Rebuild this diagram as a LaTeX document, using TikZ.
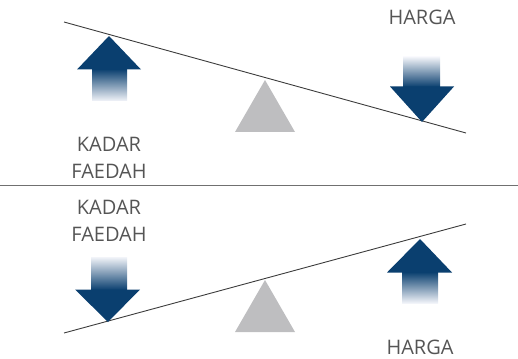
\documentclass[tikz,border=0pt]{standalone}
\usepackage{fontspec}
\setmainfont{Open Sans}
\definecolor{arrowblue}{HTML}{0A3F6F}
\definecolor{fadeblue}{HTML}{F2F4F9}
\definecolor{pivotgray}{HTML}{BEBEC0}
\definecolor{labelgray}{HTML}{555555}
\definecolor{beamgray}{HTML}{3C3C3C}
\definecolor{rulegray}{HTML}{707070}
\tikzset{
  beam/.style={draw=beamgray, line width=0.9pt},
  pivot/.style={fill=pivotgray, draw=none},
  arrowhead/.style={fill=arrowblue, draw=none},
  label/.style={text=labelgray, font=\fontsize{20}{27}\selectfont, align=center, inner sep=0pt},
}
\begin{document}
\begin{tikzpicture}[x=1pt, y=-1pt]
\useasboundingbox (0,0) rectangle (518,358);

% divider
\draw[draw=rulegray, line width=0.9pt] (0,185) -- (518,185);

% ---------- upper balance ----------
\coordinate (b1l) at (64,22);
\coordinate (b1r) at (466,133);
\fill[pivot] (265,80) -- (295,132) -- (235,132) -- cycle;
\draw[beam] (b1l) -- (b1r);

% up arrow (left)
\shade[top color=arrowblue, bottom color=fadeblue] (92,69) rectangle (127,101);
\fill[arrowhead] (109,36) -- (141,69.5) -- (77,69.5) -- cycle;

% down arrow (right)
\shade[top color=fadeblue, bottom color=arrowblue] (403,57) rectangle (440,87);
\fill[arrowhead] (422,122) -- (454,86.5) -- (390,86.5) -- cycle;

\node[label] (harga1) at (422,17) {HARGA};
\node[label] (kf1) at (109,158) {KADAR\\FAEDAH};

% ---------- lower balance ----------
\coordinate (b2l) at (64,333);
\coordinate (b2r) at (466,224);
\fill[pivot] (265,280) -- (295,332) -- (235,332) -- cycle;
\draw[beam] (b2l) -- (b2r);

% down arrow (left)
\shade[top color=fadeblue, bottom color=arrowblue] (91,257) rectangle (127,290);
\fill[arrowhead] (108,322) -- (140,289.5) -- (75,289.5) -- cycle;

% up arrow (right)
\shade[top color=arrowblue, bottom color=fadeblue] (402,272) rectangle (438,303);
\fill[arrowhead] (420,239) -- (452,272.5) -- (387,272.5) -- cycle;

\node[label] (kf2) at (109,221) {KADAR\\FAEDAH};
\node[label] (harga2) at (420,347) {HARGA};
\end{tikzpicture}
\end{document}
